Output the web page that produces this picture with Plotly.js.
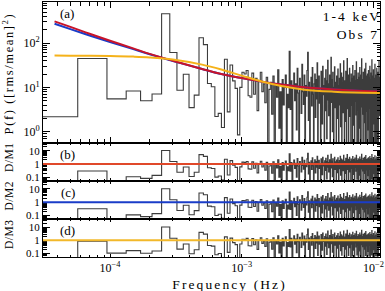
<!DOCTYPE html>
<html>
<head>
<meta charset="utf-8">
<script src="https://cdn.plot.ly/plotly-3.0.1.min.js"></script>
<style>
html,body{margin:0;padding:0;background:#fff;}
#chart{width:385px;height:291px;}
.annotation[data-index="0"] text,
.annotation[data-index="1"] text,
.annotation[data-index="2"] text{letter-spacing:2.1px;}
.annotation[data-index="3"] text{letter-spacing:1.6px;}
.annotation[data-index="4"] text,
.annotation[data-index="5"] text,
.annotation[data-index="6"] text{letter-spacing:0.5px;}
</style>
</head>
<body>
<div id="chart"></div>
<script>
// ---------------- data ----------------
// frequency resolution of the periodogram (Hz); bin k is centred on k*df
const df = 3.79e-5;

// periodogram power, bins k = 1 .. 295  ([rms/mean]^2)
const power = [
  2.17, 44.7, 5.5, 8.3, 5.0, 7.1, 457, 61, 8.6, 19.8, 3.5, 6.7, 132, 92, 12.2, 10.3, 2.2, 2.6, 1.25, 43,
  2.8, 32, 14, 9.5, 0.85, 10, 22, 20, 24, 6.5, 6, 21, 7, 16, 3, 14, 22, 8, 12, 4.5,
  17, 0.4, 9, 13, 2.5, 18, 0.3, 11, 6, 25, 1.2, 8, 0.5, 15, 4, 10, 19, 0.45, 7, 3.5, 65,
  3.2, 14, 0.4, 9.5, 21, 5, 12, 1.1, 27, 7.5, 0.35, 16, 10, 2.6, 33, 8, 4.1, 19, 0.5, 11,
  6.3, 24, 62, 1.8, 13, 0.3, 9, 17, 3.8, 28, 7, 0.45, 12, 20, 2.1, 15, 5.5, 36, 0.6, 10,
  18, 4.4, 8.5, 0.25, 23, 13, 1.5, 30, 6.8, 11, 0.4, 16, 3, 25, 9, 0.7, 14, 41, 5.2, 2.3,
  12, 19, 0.35, 8, 48, 4.6, 15, 1, 22, 7.2, 0.5, 10, 29, 3.5, 13, 6, 0.3, 18, 9.5, 2,
  26, 11, 0.45, 7.8, 16, 4, 34, 1.3, 9, 21, 0.6, 12.5, 5.8, 17, 2.7, 40, 8.3, 0.4, 14, 6.5,
  1.7, 23, 10, 0.3, 15, 45, 3.3, 8.8, 19, 0.55, 11.5, 5, 27, 2.2, 13, 7.4, 0.4, 20, 9.6, 3.9,
  16, 0.5, 31, 6.2, 12, 1.4, 18, 8, 0.35, 24, 4.8, 10.5, 14, 2.4, 38, 7, 0.6, 15, 11, 3.1,
  21, 0.4, 9.2, 17, 5.4, 1.2, 28, 12, 0.5, 7.6, 19, 3.6, 13.5, 44, 0.3, 8.4, 15, 6, 2.5, 22,
  10, 0.45, 16.5, 4.2, 26, 9, 1.6, 13, 0.55, 35, 6.6, 11, 2.9, 18, 0.35, 8.2, 20, 4.9, 14, 1.1,
  24, 7.3, 0.5, 12, 17, 3.4, 30, 9.8, 0.4, 15, 5.6, 2, 21, 11, 0.6, 42, 6.9, 13, 3.7, 18,
  0.3, 8.7, 25, 4.5, 11.8, 1.5, 16, 7.1, 0.45, 33, 10, 2.8, 14.5, 5.9, 0.55, 19, 9.1, 3, 27, 12,
  0.4, 6.4, 15.5, 1.9, 22, 8.9, 0.5, 13, 4.3, 39, 10.2, 2.3, 17, 7.7
];

// model curves read at a set of frequencies (Hz)
const modelFreq = [3.79e-5, 5e-5, 7e-5, 1e-4, 1.5e-4, 2e-4, 3e-4, 5e-4, 7e-4, 1e-3, 1.5e-3, 2e-3, 3e-3, 5e-3, 7e-3, 1.12e-2];
const modelM1 = [309, 231, 162, 113, 76, 57, 40, 26, 20, 16.2, 13.1, 11.6, 10.1, 9.0, 8.5, 8.05];
const modelM2 = [272, 206, 148, 106, 73, 56, 39.5, 26, 20, 16.2, 13.1, 11.6, 10.1, 9.0, 8.5, 8.05];
const modelM3 = [52.2, 52.0, 51.7, 51.0, 49.5, 47.5, 42.5, 32.6, 25.3, 18.4, 13.0, 10.7, 8.9, 8.0, 7.7, 7.5];

// axis tick labels
const xTickVals = [1e-4, 1e-3, 1e-2];
const xTickText = ['10<sup>\u22124</sup>', '10<sup>\u22123</sup>', '10<sup>\u22122</sup>'];
const pTickVals = [1, 10, 100];
const pTickText = ['10<sup>0</sup>', '10<sup>1</sup>', '10<sup>2</sup>'];
const rTickVals = [0.1, 1, 10];
const rTickText = ['0.1', '1', '10'];

const panelLetters = ['(a)', '(b)', '(c)', '(d)'];
const ratioLabels = ['D/M1', 'D/M2', 'D/M3'];

// ---------------- derived ----------------
const nBins = power.length;
const freq = power.map((_, i) => (i + 1) * df);
const edges = [];
for (let i = 0; i <= nBins; i++) edges.push((i + 0.5) * df);

function stepXY(vals) {
  const xs = [], ys = [];
  for (let i = 0; i < vals.length; i++) {
    xs.push(edges[i], edges[i + 1]);
    ys.push(vals[i], vals[i]);
  }
  return {xs, ys};
}
function modelAt(f, mv) {
  const lf = Math.log10(f);
  const lx = modelFreq.map(Math.log10);
  let j = 0;
  while (j < lx.length - 2 && lf > lx[j + 1]) j++;
  const t = (lf - lx[j]) / (lx[j + 1] - lx[j]);
  return Math.pow(10, Math.log10(mv[j]) + t * (Math.log10(mv[j + 1]) - Math.log10(mv[j])));
}
const models = [modelM1, modelM2, modelM3];
const ratios = models.map(mv => power.map((p, i) => p / modelAt(freq[i], mv)));

// ---------------- styling ----------------
const dataColor = '#3c3c3c';
const colM1 = '#c8142a', colM2 = '#1a3cc8', colM3 = '#f5b21a';
const ratioLineCols = ['#e0482a', '#1a3cc8', '#f2b82a'];

const tickFont = {family: 'Liberation Serif, serif', size: 12, color: '#000'};
const rTickFont = {family: 'Liberation Serif, serif', size: 11, color: '#000'};
const xRange = [-4.509, -1.950];

function minorVals(d0, d1) {
  const v = [];
  for (let d = d0; d <= d1; d++) for (let m = 2; m <= 9; m++) v.push(m * Math.pow(10, d));
  return v;
}
const xMinor = minorVals(-6, -1);
const yMinor = minorVals(-3, 3);

function xAxis(anchor, showLabels, tlen, mlen) {
  return {
    type: 'log', range: xRange, anchor: anchor,
    showline: true, linecolor: '#000', linewidth: 1, mirror: 'ticks',
    ticks: 'inside', ticklen: tlen, tickwidth: 1, tickcolor: '#000',
    tickmode: 'array', tickvals: xTickVals, ticktext: xTickText,
    showticklabels: showLabels, tickfont: tickFont,
    minor: {tickmode: 'array', tickvals: xMinor, ticks: 'inside', ticklen: mlen, tickwidth: 1, tickcolor: '#000', showgrid: false},
    showgrid: false, zeroline: false, fixedrange: true
  };
}
function yAxis(anchor, domain, range, tv, tt, font) {
  return {
    type: 'log', range: range, domain: domain, anchor: anchor,
    showline: true, linecolor: '#000', linewidth: 1, mirror: 'ticks',
    ticks: 'inside', ticklen: 7, tickwidth: 1, tickcolor: '#000',
    tickmode: 'array', tickvals: tv, ticktext: tt, tickfont: font,
    minor: {tickmode: 'array', tickvals: yMinor, ticks: 'inside', ticklen: 3.5, tickwidth: 1, tickcolor: '#000', showgrid: false},
    showgrid: false, zeroline: false, fixedrange: true
  };
}

// ---------------- traces ----------------
const traces = [];
const sp = stepXY(power);
traces.push({x: sp.xs, y: sp.ys, xaxis: 'x', yaxis: 'y', mode: 'lines',
  line: {color: dataColor, width: 1.1, simplify: false}, hoverinfo: 'skip'});
traces.push({x: modelFreq, y: modelM2, xaxis: 'x', yaxis: 'y', mode: 'lines',
  line: {color: colM2, width: 2, shape: 'spline'}, hoverinfo: 'skip'});
traces.push({x: modelFreq, y: modelM1, xaxis: 'x', yaxis: 'y', mode: 'lines',
  line: {color: colM1, width: 2, shape: 'spline'}, hoverinfo: 'skip'});
traces.push({x: modelFreq, y: modelM3, xaxis: 'x', yaxis: 'y', mode: 'lines',
  line: {color: colM3, width: 2, shape: 'spline'}, hoverinfo: 'skip'});

ratios.forEach((r, j) => {
  const s = stepXY(r);
  traces.push({x: s.xs, y: s.ys, xaxis: 'x' + (j + 2), yaxis: 'y' + (j + 2), mode: 'lines',
    line: {color: dataColor, width: 1.1, simplify: false}, hoverinfo: 'skip'});
});

// ---------------- layout ----------------
// plot area: x 43..380 px, y 2..257 px
const H0 = 255;
const dA = [0.449, 1], dB = [0.2988, 0.449], dC = [0.1486, 0.2988], dD = [0, 0.1486];
const px = p => (p - 43) / 337;
const py = p => (257 - p) / H0;

const shapes = ratioLineCols.map((c, j) => ({
  type: 'line', xref: 'x' + (j + 2) + ' domain', yref: 'y' + (j + 2),
  x0: 0, x1: 1, y0: 1, y1: 1, line: {color: c, width: 2}, layer: 'above'
}));

const serifText = {family: 'Liberation Serif, serif', color: '#000'};
const annotations = [
  {text: '1-4 keV', x: px(375), y: py(16), xanchor: 'right', yanchor: 'middle', font: {...serifText, size: 13.5}},
  {text: 'Obs 7', x: px(375), y: py(35), xanchor: 'right', yanchor: 'middle', font: {...serifText, size: 13.5}},
  {text: 'Frequency (Hz)', x: px(229), y: py(284), xanchor: 'center', yanchor: 'middle', font: {...serifText, size: 13.5}},
  {text: 'P(f) ([rms/mean]<sup>2</sup>)', x: px(8), y: py(74), xanchor: 'center', yanchor: 'middle', textangle: -90, font: {...serifText, size: 12.5}},
  {text: ratioLabels[0], x: px(8.5), y: py(157.5), xanchor: 'center', yanchor: 'middle', textangle: -90, font: {...serifText, size: 11.5}},
  {text: ratioLabels[1], x: px(8.5), y: py(196), xanchor: 'center', yanchor: 'middle', textangle: -90, font: {...serifText, size: 11.5}},
  {text: ratioLabels[2], x: px(8.5), y: py(234.5), xanchor: 'center', yanchor: 'middle', textangle: -90, font: {...serifText, size: 11.5}},
  {text: panelLetters[0], x: px(67), y: py(13.5), xanchor: 'center', yanchor: 'middle', font: {...serifText, size: 13}},
  {text: panelLetters[1], x: px(67.5), y: py(154), xanchor: 'center', yanchor: 'middle', font: {...serifText, size: 13}},
  {text: panelLetters[2], x: px(67.5), y: py(192), xanchor: 'center', yanchor: 'middle', font: {...serifText, size: 13}},
  {text: panelLetters[3], x: px(67.5), y: py(230), xanchor: 'center', yanchor: 'middle', font: {...serifText, size: 13}}
].map(a => Object.assign({xref: 'paper', yref: 'paper', showarrow: false, borderpad: 0}, a));

const layout = {
  width: 385, height: 291,
  margin: {l: 43, r: 5, t: 2, b: 34, pad: 0},
  paper_bgcolor: '#fff', plot_bgcolor: '#fff',
  showlegend: false,
  xaxis: xAxis('y', false, 6, 3.5),
  xaxis2: xAxis('y2', false, 3, 2),
  xaxis3: xAxis('y3', false, 3, 2),
  xaxis4: xAxis('y4', true, 3, 2),
  yaxis: yAxis('x', dA, [-0.243, 2.926], pTickVals, pTickText, tickFont),
  yaxis2: yAxis('x2', dB, [-1.26, 1.61], rTickVals, rTickText, rTickFont),
  yaxis3: yAxis('x3', dC, [-1.26, 1.61], rTickVals, rTickText, rTickFont),
  yaxis4: yAxis('x4', dD, [-1.26, 1.61], rTickVals, rTickText, rTickFont),
  shapes: shapes,
  annotations: annotations
};

Plotly.newPlot('chart', traces, layout, {staticPlot: true, displayModeBar: false});
</script>
</body>
</html>
